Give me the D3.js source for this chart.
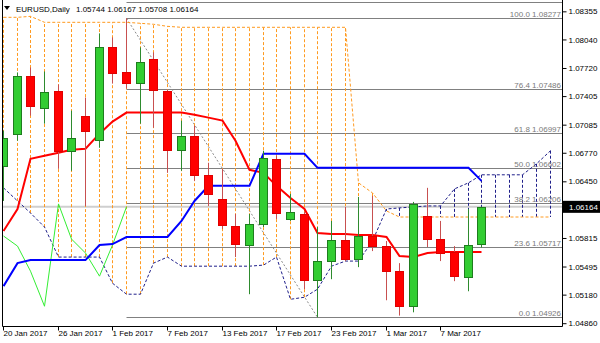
<!DOCTYPE html>
<html>
<head>
<meta charset="utf-8">
<script src="https://cdn.jsdelivr.net/npm/d3@7"></script>
<style>
body { margin: 0; background: #fff; }
svg { display: block; font-family: "Liberation Sans", Arial, sans-serif; }
</style>
</head>
<body>
<svg id="chart" width="600" height="343"></svg>
<script>
// EURUSD daily bars (20 Jan - 10 Mar 2017)
const dates = ['2017-01-20','2017-01-23','2017-01-24','2017-01-25','2017-01-26','2017-01-27',
  '2017-01-30','2017-01-31','2017-02-01','2017-02-02','2017-02-03','2017-02-06','2017-02-07',
  '2017-02-08','2017-02-09','2017-02-10','2017-02-13','2017-02-14','2017-02-15','2017-02-16',
  '2017-02-17','2017-02-20','2017-02-21','2017-02-22','2017-02-23','2017-02-24','2017-02-27',
  '2017-02-28','2017-03-01','2017-03-02','2017-03-03','2017-03-06','2017-03-07','2017-03-08',
  '2017-03-09','2017-03-10'];
const open  = [1.06624,1.06984,1.07625,1.07276,1.07467,1.06793,1.07186,1.06916,1.07951,1.07670,1.07557,1.07816,1.07467,1.06804,1.06961,1.06523,1.06253,1.05949,1.05736,1.05972,1.06703,1.06028,1.06084,1.05342,1.05556,1.05792,1.05578,1.05837,1.05724,1.05443,1.05050,1.06062,1.05803,1.05657,1.05376,1.05744];
const high  = [1.07018,1.07670,1.07726,1.07681,1.07535,1.07242,1.07389,1.08108,1.08063,1.08277,1.07951,1.07895,1.07479,1.07130,1.07074,1.06658,1.06590,1.06084,1.06084,1.06793,1.06736,1.06309,1.06107,1.05938,1.06006,1.06163,1.06275,1.06287,1.05781,1.05533,1.06219,1.06377,1.06006,1.05724,1.06140,1.06167];
const low   = [1.06230,1.06905,1.07186,1.07096,1.06590,1.06568,1.06174,1.06826,1.07546,1.07490,1.07096,1.07051,1.06545,1.06568,1.06455,1.06174,1.05916,1.05601,1.05185,1.05938,1.06028,1.06006,1.05241,1.04926,1.05353,1.05556,1.05488,1.05668,1.05117,1.04945,1.04982,1.05713,1.05556,1.05331,1.05218,1.05708];
const close = [1.06939,1.07625,1.07299,1.07456,1.06793,1.06939,1.07018,1.07951,1.07659,1.07557,1.07782,1.07479,1.06804,1.06961,1.06523,1.06309,1.05961,1.05747,1.05972,1.06714,1.06095,1.06107,1.05342,1.05556,1.05792,1.05578,1.05837,1.05724,1.05443,1.05050,1.06197,1.05803,1.05646,1.05387,1.05736,1.06164];

// Ichimoku lines
const tenkan = [1.05893,1.06140,1.06703,1.06736,1.06770,1.06804,1.06815,1.06984,1.07119,1.07220,1.07220,1.07220,1.07220,1.07220,1.07197,1.07164,1.07130,1.06905,1.06579,1.06545,1.06399,1.06264,1.06140,1.05871,1.05859,1.05859,1.05848,1.05848,1.05826,1.05612,1.05601,1.05646,1.05657,1.05657,1.05657,1.05657];
const kijun  = [1.05275,1.05533,1.05567,1.05567,1.05567,1.05567,1.05567,1.05736,1.05747,1.05826,1.05826,1.05826,1.05826,1.06006,1.06230,1.06399,1.06399,1.06399,1.06399,1.06759,1.06759,1.06759,1.06759,1.06601,1.06601,1.06601,1.06601,1.06601,1.06601,1.06601,1.06601,1.06601,1.06601,1.06601,1.06601,1.06455];
// senkou spans run 5 bars past the last candle
const spanA = [1.06377,1.06230,1.06095,1.05938,1.05601,1.05601,1.05601,1.05601,1.05308,1.05185,1.05185,1.05533,1.05601,1.05499,1.05499,1.05499,1.05499,1.05499,1.05499,1.05511,1.05601,1.05128,1.05151,1.05241,1.05499,1.05556,1.05556,1.05781,1.06140,1.06152,1.06163,1.06174,1.06174,1.06365,1.06433,1.06523,1.06523,1.06523,1.06523,1.06646,1.06793];
const spanB = [1.08288,1.08288,1.08299,1.08232,1.08232,1.08232,1.08232,1.08232,1.08232,1.08232,1.08221,1.08210,1.08187,1.08176,1.08176,1.08176,1.08176,1.08176,1.08176,1.08176,1.08176,1.08176,1.08176,1.08176,1.08176,1.08176,1.06433,1.06320,1.06118,1.06050,1.06050,1.06050,1.06050,1.06050,1.06050,1.06050,1.06050,1.06050,1.06050,1.06050,1.06050];

// axis labels (1.06135 sits under the price box, so it is left out)
const priceTicks = [1.08355,1.08040,1.07720,1.07405,1.07085,1.06770,1.06450,1.05815,1.05495,1.05180,1.04860];
const dateTicks = ['2017-01-20','2017-01-26','2017-02-01','2017-02-07','2017-02-13','2017-02-17','2017-02-23','2017-03-01','2017-03-07'];

// fibonacci retracement from the 2 Feb high to the 22 Feb low
const fibLevels = [0, 23.6, 38.2, 50, 61.8, 76.4, 100];
const fibHigh = 1.08277, fibLow = 1.04926;
const fibStart = 9, fibEnd = 23;

const svg = d3.select('#chart');
const plotL = 2.5, plotR = 562.5, plotB = 326.5;

const x = d3.scaleLinear().domain([0, 40]).range([3, 3 + 40 * 13.67]);
const y = d3.scaleLinear().domain([fibLow, fibHigh]).range([317.3, 18.3]);
const px = i => Math.round(x(i)) + 0.5;
const py = v => Math.round(y(v)) + 0.5;

svg.append('defs').append('clipPath').attr('id', 'plot')
  .append('rect').attr('x', 3).attr('y', 0).attr('width', 559).attr('height', 326);

const g = svg.append('g').attr('clip-path', 'url(#plot)');

// bid line
const last = close[close.length - 1];
g.append('line')
  .attr('x1', 0).attr('x2', plotR)
  .attr('y1', y(last)).attr('y2', y(last))
  .attr('stroke', '#cfcfcf').attr('stroke-width', 2);

// fibo levels
g.selectAll('.fib').data(fibLevels).join('line')
  .attr('x1', px(fibStart)).attr('x2', plotR)
  .attr('y1', d => py(fibLow + (fibHigh - fibLow) * d / 100))
  .attr('y2', d => py(fibLow + (fibHigh - fibLow) * d / 100))
  .attr('stroke', '#808080');

g.append('line')
  .attr('x1', px(fibStart)).attr('x2', plotR)
  .attr('y1', 2.5).attr('y2', 2.5)
  .attr('stroke', '#808080');

g.append('line')
  .attr('x1', px(fibStart)).attr('y1', y(fibHigh))
  .attr('x2', px(fibEnd)).attr('y2', y(fibLow))
  .attr('stroke', '#8a8a8a').attr('stroke-dasharray', '2,2');

// kumo hatch
const orange = '#ff9a1f', navy = '#1f1f8a';
const cloud = spanA.map((a, i) => ({ i, a, b: spanB[i] }));
g.selectAll('.hatch').data(cloud).join('line')
  .attr('x1', d => px(d.i)).attr('x2', d => px(d.i))
  .attr('y1', d => y(d.a)).attr('y2', d => y(d.b))
  .attr('stroke', d => d.b > d.a ? orange : navy)
  .attr('stroke-dasharray', '3,2');

const line = d3.line().x(d => d[0]).y(d => d[1]);

g.append('path')
  .attr('d', line(spanB.map((v, i) => [px(i), y(v)])))
  .attr('fill', 'none').attr('stroke', orange).attr('stroke-dasharray', '3,2');
g.append('path')
  .attr('d', line(spanA.map((v, i) => [px(i), y(v)])))
  .attr('fill', 'none').attr('stroke', navy).attr('stroke-dasharray', '3,2');

// chikou = close shifted back 26 bars
const chikou = close.slice(26).map((v, i) => [px(i), y(v)]);
g.append('path').attr('d', line(chikou))
  .attr('fill', 'none').attr('stroke', '#33ee33');

g.append('path').attr('d', line(tenkan.map((v, i) => [px(i), y(v)])))
  .attr('fill', 'none').attr('stroke', '#ff0000').attr('stroke-width', 2);
g.append('path').attr('d', line(kijun.map((v, i) => [px(i), y(v)])))
  .attr('fill', 'none').attr('stroke', '#0000ff').attr('stroke-width', 2);

// candles on top
const bars = dates.map((d, i) => ({ i, o: open[i], h: high[i], l: low[i], c: close[i] }));
const candle = g.selectAll('.candle').data(bars).join('g');

candle.append('line')
  .attr('x1', d => px(d.i)).attr('x2', d => px(d.i))
  .attr('y1', d => y(d.h)).attr('y2', d => y(d.l))
  .attr('stroke', d => d.c >= d.o ? '#2e8b2e' : '#c85050');

candle.append('rect')
  .attr('x', d => px(d.i) - 4)
  .attr('y', d => py(Math.max(d.o, d.c)))
  .attr('width', 8)
  .attr('height', d => Math.max(1, py(Math.min(d.o, d.c)) - py(Math.max(d.o, d.c))))
  .attr('fill', d => d.c >= d.o ? '#32cd32' : '#ff0000')
  .attr('stroke', d => d.c >= d.o ? '#1e7d1e' : '#e00000');

// fib labels
g.selectAll('.fibtxt').data(fibLevels).join('text')
  .attr('x', plotR - 1.5)
  .attr('y', d => py(fibLow + (fibHigh - fibLow) * d / 100) - 2)
  .attr('text-anchor', 'end')
  .attr('font-size', 8).attr('fill', '#7a7a7a')
  .text(d => d.toFixed(1) + ' ' + (fibLow + (fibHigh - fibLow) * d / 100).toFixed(5));

// frame
svg.append('path')
  .attr('d', `M${plotL},0V${plotB}H${plotR}V0`)
  .attr('fill', 'none').attr('stroke', '#000');

// right price axis
const yAxis = svg.append('g')
  .attr('transform', `translate(${plotR},0)`)
  .call(d3.axisRight(y).tickValues(priceTicks).tickSize(4).tickPadding(2).tickFormat(d3.format('.5f')));
yAxis.select('.domain').remove();
yAxis.selectAll('text').attr('font-size', 8).attr('font-family', null);

// bottom date axis
const parse = d3.timeParse('%Y-%m-%d');
const fmt = d3.timeFormat('%-d %b %Y');
const xAxis = svg.append('g')
  .attr('transform', `translate(0,${plotB})`)
  .call(d3.axisBottom(x)
    .tickValues(dateTicks.map(d => dates.indexOf(d)))
    .tickSize(4)
    .tickFormat(i => fmt(parse(dates[i]))));
xAxis.select('.domain').remove();
xAxis.selectAll('.tick').attr('transform', d => `translate(${px(d)},0)`);
xAxis.selectAll('text').attr('font-size', 8).attr('font-family', null)
  .attr('text-anchor', 'start').attr('y', 4);

// current price box
const box = svg.append('g').attr('transform', `translate(${plotR + 0.5},${y(last)})`);
box.append('rect').attr('x', 0).attr('y', -6).attr('width', 38).attr('height', 12).attr('fill', '#000');
box.append('text').attr('x', 6).attr('dy', '0.35em')
  .attr('font-size', 8).attr('fill', '#fff').text(last.toFixed(5));

// title
svg.append('path').attr('d', 'M4,6H10L7,10Z').attr('fill', '#000');
const title = svg.append('text').attr('x', 16).attr('y', 12).attr('font-size', 8).attr('fill', '#000');
title.append('tspan').text('EURUSD,Daily');
title.append('tspan').attr('x', 76)
  .text([open, high, low, close].map(a => a[a.length - 1].toFixed(5)).join(' '));
</script>
</body>
</html>
